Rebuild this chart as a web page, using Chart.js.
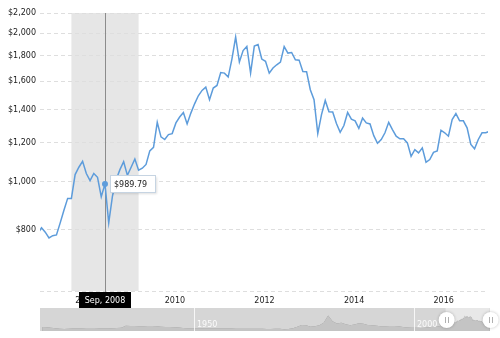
<!DOCTYPE html>
<html>
<head>
<meta charset="utf-8">
<title>Gold Prices - Inflation Adjusted</title>
<script src="https://cdn.jsdelivr.net/npm/chart.js@4/dist/chart.umd.min.js"></script>
<style>
  html, body { margin: 0; padding: 0; background: #ffffff; }
  #wrap { position: relative; width: 500px; height: 338px; overflow: hidden; }
  #wrap canvas { position: absolute; left: 0; top: 0; }
</style>
</head>
<body>
<div id="wrap">
  <canvas id="nav" width="500" height="338"></canvas>
  <canvas id="main" width="500" height="338"></canvas>
</div>
<script>
// ---- data -------------------------------------------------------------
// Monthly gold price (inflation adjusted, USD per ounce), starting Mar 2007
const firstMonth = { year: 2007, month: 3 };
const goldPrice = [
  785, 806, 790, 769, 777, 780, 825, 875, 925, 925,                        // 2007 (Mar-Dec)
  1034, 1070, 1100, 1039, 1005, 1039, 1021, 932, 989.79, 825, 935, 1010,   // 2008
  1058, 1098, 1030, 1070, 1112, 1055, 1065, 1084, 1155, 1174, 1320, 1233,  // 2009
  1218, 1246, 1252, 1316, 1353, 1382, 1310, 1378, 1439, 1494, 1532, 1556,  // 2010
  1467, 1549, 1568, 1666, 1661, 1631, 1774, 1966, 1749, 1846, 1881, 1661,  // 2011
  1885, 1898, 1774, 1755, 1661, 1701, 1727, 1749, 1881, 1824, 1829, 1768,  // 2012
  1765, 1674, 1672, 1537, 1467, 1252, 1368, 1462, 1387, 1385, 1312, 1260,  // 2013
  1300, 1382, 1340, 1329, 1283, 1346, 1316, 1310, 1240, 1197, 1218, 1257,  // 2014
  1320, 1276, 1237, 1222, 1222, 1199, 1126, 1162, 1144, 1171, 1095, 1109,  // 2015
  1147, 1155, 1272, 1257, 1237, 1337, 1375, 1329, 1329, 1286, 1190, 1166,  // 2016
  1218, 1257, 1257, 1266                                                   // 2017 (Jan-Apr)
];
const monthNames = ['Jan', 'Feb', 'Mar', 'Apr', 'May', 'Jun', 'Jul', 'Aug', 'Sep', 'Oct', 'Nov', 'Dec'];

// Axis ticks
const yearTicks = [2008, 2010, 2012, 2014, 2016];
const priceTicks = [600, 800, 1000, 1200, 1400, 1600, 1800, 2000, 2200];

// Recession band and the month picked by the cursor
const recession = ['Dec, 2007', 'Jun, 2009'];
const cursorMonth = 'Sep, 2008';

// Long-run history for the scroller (annual, inflation adjusted), 1915-2006
const historyStartYear = 1915;
const historyPrice = [
  510, 470, 400, 340, 295,                                  // 1915-1919
  255, 285, 305, 300, 300, 290, 290, 295, 300, 300,         // 1920s
  310, 340, 375, 420, 650, 630, 620, 600, 610, 620,         // 1930s
  615, 585, 530, 500, 490, 480, 440, 385, 355, 360,         // 1940s
  360, 335, 325, 325, 320, 320, 315, 305, 300, 295,         // 1950s
  290, 290, 285, 280, 275, 270, 265, 255, 270, 280,         // 1960s
  230, 250, 340, 540, 770, 730, 540, 600, 730, 1030,        // 1970s
  1950, 1240, 960, 1050, 850, 720, 820, 970, 900, 750,      // 1980s
  720, 650, 600, 610, 640, 620, 610, 505, 445, 415,         // 1990s
  400, 375, 425, 485, 530, 560, 735                         // 2000-2006
];
const scrollerYears = [1950, 2000];

// ---- helpers ----------------------------------------------------------
const FONT = '"DejaVu Sans", Verdana, sans-serif';
const monthLabel = i => {
  const k = firstMonth.month - 1 + i;
  return monthNames[k % 12] + ', ' + (firstMonth.year + Math.floor(k / 12));
};
const labels = goldPrice.map((_, i) => monthLabel(i));
const indexOf = lbl => labels.indexOf(lbl);
const yearIndex = yr => (yr - firstMonth.year) * 12 + (1 - firstMonth.month);
const monthToYear = i => firstMonth.year + (firstMonth.month - 1 + i) / 12;

// visible window of the main chart, in months since the first month
const viewStart = 0.59, viewEnd = 120.6;

const focusIndex = indexOf(cursorMonth);
const recStart = indexOf(recession[0]);
const recEnd = indexOf(recession[1]);

// ---- main chart -------------------------------------------------------
const overlay = {
  id: 'overlay',
  beforeDraw(chart) {
    const { ctx, chartArea: a, scales: { x } } = chart;
    const x0 = x.getPixelForValue(recStart), x1 = x.getPixelForValue(recEnd);
    ctx.save();
    ctx.fillStyle = '#e6e6e6';
    ctx.fillRect(x0, a.top, x1 - x0, a.bottom - a.top);
    ctx.restore();
  },
  beforeDatasetsDraw(chart) {
    const { ctx, chartArea: a, scales: { x } } = chart;
    const px = Math.round(x.getPixelForValue(focusIndex)) + 0.5;
    ctx.save();
    ctx.strokeStyle = '#8c8c8c';
    ctx.lineWidth = 1;
    ctx.beginPath();
    ctx.moveTo(px, a.top);
    ctx.lineTo(px, a.bottom + 2);
    ctx.stroke();
    ctx.restore();
  },
  afterDraw(chart) {
    const { ctx, chartArea: a, scales: { x, y } } = chart;
    const px = x.getPixelForValue(focusIndex);
    const py = y.getPixelForValue(goldPrice[focusIndex]);
    ctx.save();
    ctx.font = '8px ' + FONT;
    ctx.textBaseline = 'middle';

    // value balloon
    const vText = '$' + goldPrice[focusIndex].toFixed(2);
    const vw = Math.round(ctx.measureText(vText).width) + 12;
    const bx = Math.round(px + 5) + 0.5, bh = 17;
    const by = Math.round(py - bh / 2) + 0.5;
    ctx.shadowColor = 'rgba(0,0,0,0.12)';
    ctx.shadowBlur = 2;
    ctx.shadowOffsetX = 1;
    ctx.shadowOffsetY = 1;
    ctx.fillStyle = '#ffffff';
    ctx.fillRect(bx, by, vw, bh);
    ctx.shadowColor = 'transparent';
    ctx.strokeStyle = '#c6d4e2';
    ctx.lineWidth = 1;
    ctx.strokeRect(bx, by, vw, bh);
    ctx.fillStyle = '#222222';
    ctx.textAlign = 'left';
    ctx.fillText(vText, bx + 3.5, by + bh / 2 + 0.5);

    // date balloon on the category axis
    const dText = labels[focusIndex];
    const dw = Math.round(ctx.measureText(dText).width) + 11;
    const dx = Math.round(px - dw / 2), dy = Math.round(a.bottom + 1), dh = 16;
    ctx.fillStyle = '#000000';
    ctx.fillRect(dx, dy, dw, dh);
    ctx.fillStyle = '#ffffff';
    ctx.textAlign = 'center';
    ctx.fillText(dText, dx + dw / 2, dy + dh / 2 + 0.5);
    ctx.restore();
  }
};

new Chart(document.getElementById('main'), {
  type: 'line',
  data: {
    labels: labels,
    datasets: [{
      data: goldPrice.map((v, i) => ({ x: i, y: v })),
      borderColor: '#5d9cdb',
      borderWidth: 1.5,
      tension: 0,
      fill: false,
      clip: 0,
      pointRadius: ctx => (ctx.dataIndex === focusIndex ? 3 : 0),
      pointBackgroundColor: '#5d9cdb',
      pointBorderColor: '#5d9cdb',
      pointBorderWidth: 0,
      pointHoverRadius: 0
    }]
  },
  options: {
    responsive: false,
    animation: false,
    events: [],
    layout: { padding: { top: 13, right: 12, left: 0, bottom: 0 } },
    scales: {
      x: {
        type: 'linear',
        min: viewStart,
        max: viewEnd,
        afterBuildTicks: s => { s.ticks = yearTicks.map(yr => ({ value: yearIndex(yr) })); },
        afterFit: s => { s.height = 47; },
        grid: { display: false, drawTicks: false },
        border: { display: false },
        ticks: {
          autoSkip: false,
          maxRotation: 0,
          align: 'start',
          padding: 5,
          color: '#222222',
          font: { family: FONT, size: 8 },
          callback: (v) => {
            const k = yearIndex(yearTicks[0]);
            const n = yearTicks.findIndex(yr => yearIndex(yr) === v);
            return n >= 0 ? String(yearTicks[n]) : '';
          }
        }
      },
      y: {
        type: 'logarithmic',
        min: priceTicks[0],
        max: priceTicks[priceTicks.length - 1],
        afterBuildTicks: s => { s.ticks = priceTicks.map(v => ({ value: v })); },
        afterFit: s => { s.width = 40; },
        grid: { color: '#dedede', lineWidth: 1, drawTicks: false },
        border: { display: false, dash: [4, 3] },
        ticks: {
          padding: 4,
          color: '#222222',
          font: { family: FONT, size: 8 },
          callback: v => (v === priceTicks[0] ? '' : '$' + Number(v).toLocaleString('en-US'))
        }
      }
    },
    plugins: { legend: { display: false }, tooltip: { enabled: false } }
  },
  plugins: [overlay]
});

// ---- scroller (long-run overview) -------------------------------------
const navPoints = historyPrice.map((v, i) => ({ x: historyStartYear + i + 0.5, y: v }))
  .concat(goldPrice.map((v, i) => ({ x: monthToYear(i), y: v })));
const winStart = monthToYear(viewStart), winEnd = monthToYear(viewEnd);

const scroller = {
  id: 'scroller',
  beforeDatasetsDraw(chart) {
    const { ctx, chartArea: a, scales: { x } } = chart;
    ctx.save();
    ctx.fillStyle = '#d6d6d6';
    ctx.fillRect(a.left, a.top, a.right - a.left, a.bottom - a.top);
    const w0 = x.getPixelForValue(winStart), w1 = x.getPixelForValue(winEnd);
    ctx.fillStyle = '#e8e8e8';
    ctx.fillRect(w0, a.top, w1 - w0, a.bottom - a.top);
    ctx.restore();
  },
  beforeDatasetDraw(chart, args) {
    if (args.index !== 1) return;
    const { ctx, chartArea: a, scales: { x } } = chart;
    const w0 = x.getPixelForValue(winStart), w1 = x.getPixelForValue(winEnd);
    ctx.save();
    ctx.beginPath();
    ctx.rect(w0, a.top, w1 - w0, a.bottom - a.top);
    ctx.clip();
  },
  afterDatasetDraw(chart, args) {
    if (args.index === 1) chart.ctx.restore();
  },
  afterDatasetsDraw(chart) {
    const { ctx, chartArea: a, scales: { x } } = chart;
    ctx.save();
    ctx.font = '8px ' + FONT;
    ctx.textBaseline = 'middle';
    ctx.textAlign = 'left';
    scrollerYears.forEach(yr => {
      const px = Math.round(x.getPixelForValue(yr)) + 0.5;
      ctx.strokeStyle = 'rgba(255,255,255,0.8)';
      ctx.lineWidth = 1;
      ctx.beginPath();
      ctx.moveTo(px, a.top);
      ctx.lineTo(px, a.bottom);
      ctx.stroke();
      ctx.fillStyle = 'rgba(255,255,255,0.9)';
      ctx.fillText(String(yr), px + 2.5, a.top + 16.5);
    });
    // drag handles at both ends of the window
    const cy = (a.top + a.bottom) / 2 + 0.5;
    [winStart, winEnd].forEach(v => {
      const cx = x.getPixelForValue(v) + 1;
      ctx.save();
      ctx.shadowColor = 'rgba(0,0,0,0.25)';
      ctx.shadowBlur = 3;
      ctx.fillStyle = '#ffffff';
      ctx.beginPath();
      ctx.arc(cx, cy, 8, 0, Math.PI * 2);
      ctx.fill();
      ctx.restore();
      ctx.strokeStyle = '#b0b0b0';
      ctx.lineWidth = 1;
      ctx.beginPath();
      ctx.moveTo(Math.round(cx - 1.5) + 0.5, cy - 3);
      ctx.lineTo(Math.round(cx - 1.5) + 0.5, cy + 3);
      ctx.moveTo(Math.round(cx + 1.5) + 0.5, cy - 3);
      ctx.lineTo(Math.round(cx + 1.5) + 0.5, cy + 3);
      ctx.stroke();
    });
    ctx.restore();
  }
};

new Chart(document.getElementById('nav'), {
  type: 'line',
  data: {
    datasets: [
      { data: navPoints, fill: 'origin', backgroundColor: '#c4c4c4', borderColor: 'transparent', borderWidth: 0, pointRadius: 0, tension: 0 },
      { data: navPoints, fill: 'origin', backgroundColor: '#8f8f8f', borderColor: 'transparent', borderWidth: 0, pointRadius: 0, tension: 0 }
    ]
  },
  options: {
    responsive: false,
    animation: false,
    events: [],
    layout: { padding: { left: 40, right: 10, top: 308, bottom: 7 } },
    scales: {
      x: { type: 'linear', display: false, min: historyStartYear, max: 2017.3 },
      y: { type: 'linear', display: false, min: 0, max: 2900 }
    },
    plugins: { legend: { display: false }, tooltip: { enabled: false } }
  },
  plugins: [scroller]
});
</script>
</body>
</html>
